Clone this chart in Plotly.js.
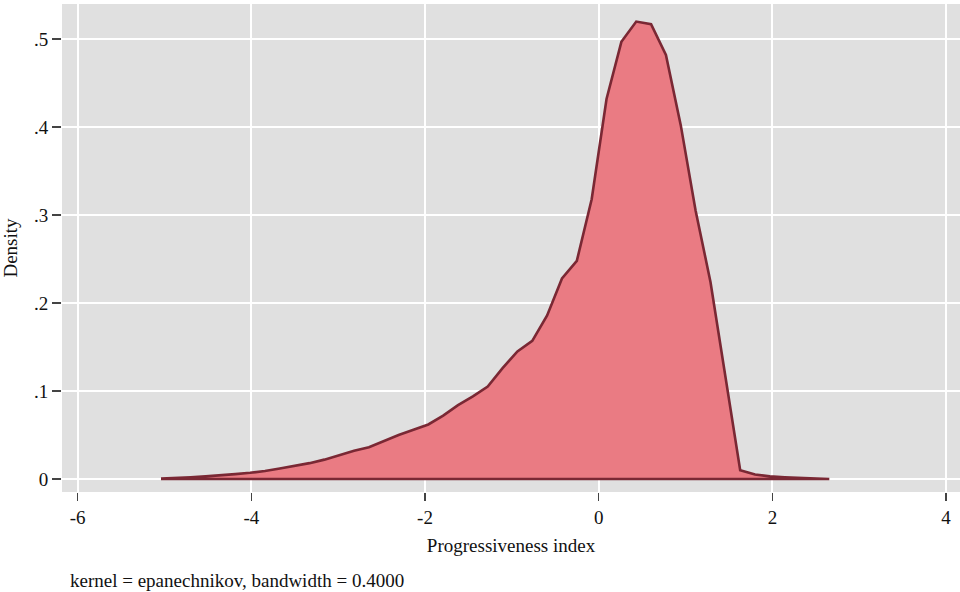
<!DOCTYPE html>
<html>
<head>
<meta charset="utf-8">
<script src="https://cdn.plot.ly/plotly-3.0.1.min.js"></script>
<style>
  html, body { margin: 0; padding: 0; background: #ffffff; }
  #chart { width: 960px; height: 592px; }
</style>
</head>
<body>
<div id="chart"></div>
<script>
// Kernel density estimate of the progressiveness index
const gridStart = -5.04;
const gridStep = 0.171;
const density = [
  0.0005, 0.001, 0.002, 0.003, 0.004, 0.0055, 0.007, 0.009, 0.012, 0.015,
  0.018, 0.022, 0.027, 0.032, 0.036, 0.043, 0.050, 0.056, 0.062, 0.072,
  0.084, 0.094, 0.105, 0.126, 0.145, 0.157, 0.186, 0.228, 0.248, 0.318,
  0.432, 0.497, 0.520, 0.517, 0.482, 0.402, 0.305, 0.224, 0.115, 0.010,
  0.005, 0.003, 0.002, 0.0012, 0.0008, 0.0004
];
const indexPoints = density.map((_, i) => +(gridStart + i * gridStep).toFixed(3));

// Axis ticks
const xTickVals = [-6, -4, -2, 0, 2, 4];
const xTickText = ["-6", "-4", "-2", "0", "2", "4"];
const yTickVals = [0, 0.1, 0.2, 0.3, 0.4, 0.5];
const yTickText = ["0", ".1", ".2", ".3", ".4", ".5"];

// Closed outline: curve, then back along the zero baseline
const polyX = indexPoints.concat([indexPoints[indexPoints.length - 1], indexPoints[0]]);
const polyY = density.concat([0, 0]);

const font = { family: '"Liberation Serif", "Times New Roman", serif', color: '#111111' };
const fs = 19;

const trace = {
  type: 'scatter',
  mode: 'lines',
  x: polyX,
  y: polyY,
  fill: 'toself',
  fillcolor: 'rgb(234,123,131)',
  line: { color: 'rgb(122,40,52)', width: 2.6 },
  hoverinfo: 'skip'
};

const layout = {
  width: 960,
  height: 592,
  margin: { l: 62, r: 0, t: 4, b: 100 },
  paper_bgcolor: '#ffffff',
  plot_bgcolor: '#e0e0e0',
  showlegend: false,
  font: Object.assign({ size: fs }, font),
  xaxis: {
    range: [-6.18, 4.16],
    tickvals: xTickVals,
    ticktext: xTickText,
    ticks: 'outside',
    ticklen: 8,
    tickwidth: 1.5,
    tickcolor: '#444444',
    showgrid: true,
    gridcolor: '#ffffff',
    gridwidth: 2,
    zeroline: false,
    showline: false,
    tickfont: Object.assign({ size: fs }, font),
    title: { text: 'Progressiveness index', font: Object.assign({ size: fs }, font), standoff: 11 }
  },
  yaxis: {
    range: [-0.0148, 0.540],
    tickvals: yTickVals,
    ticktext: yTickText,
    ticks: 'outside',
    ticklen: 9,
    tickwidth: 1.5,
    tickcolor: '#444444',
    showgrid: true,
    gridcolor: '#ffffff',
    gridwidth: 2,
    zeroline: false,
    showline: false,
    tickfont: Object.assign({ size: fs }, font),
    title: { text: 'Density', font: Object.assign({ size: fs }, font), standoff: 12 }
  },
  annotations: [{
    xref: 'paper', yref: 'paper',
    x: 6 / 898, y: -88 / 488,
    xanchor: 'left', yanchor: 'middle',
    text: 'kernel = epanechnikov, bandwidth = 0.4000',
    showarrow: false,
    font: Object.assign({ size: fs }, font)
  }]
};

Plotly.newPlot('chart', [trace], layout, { displayModeBar: false, staticPlot: true });
</script>
</body>
</html>
